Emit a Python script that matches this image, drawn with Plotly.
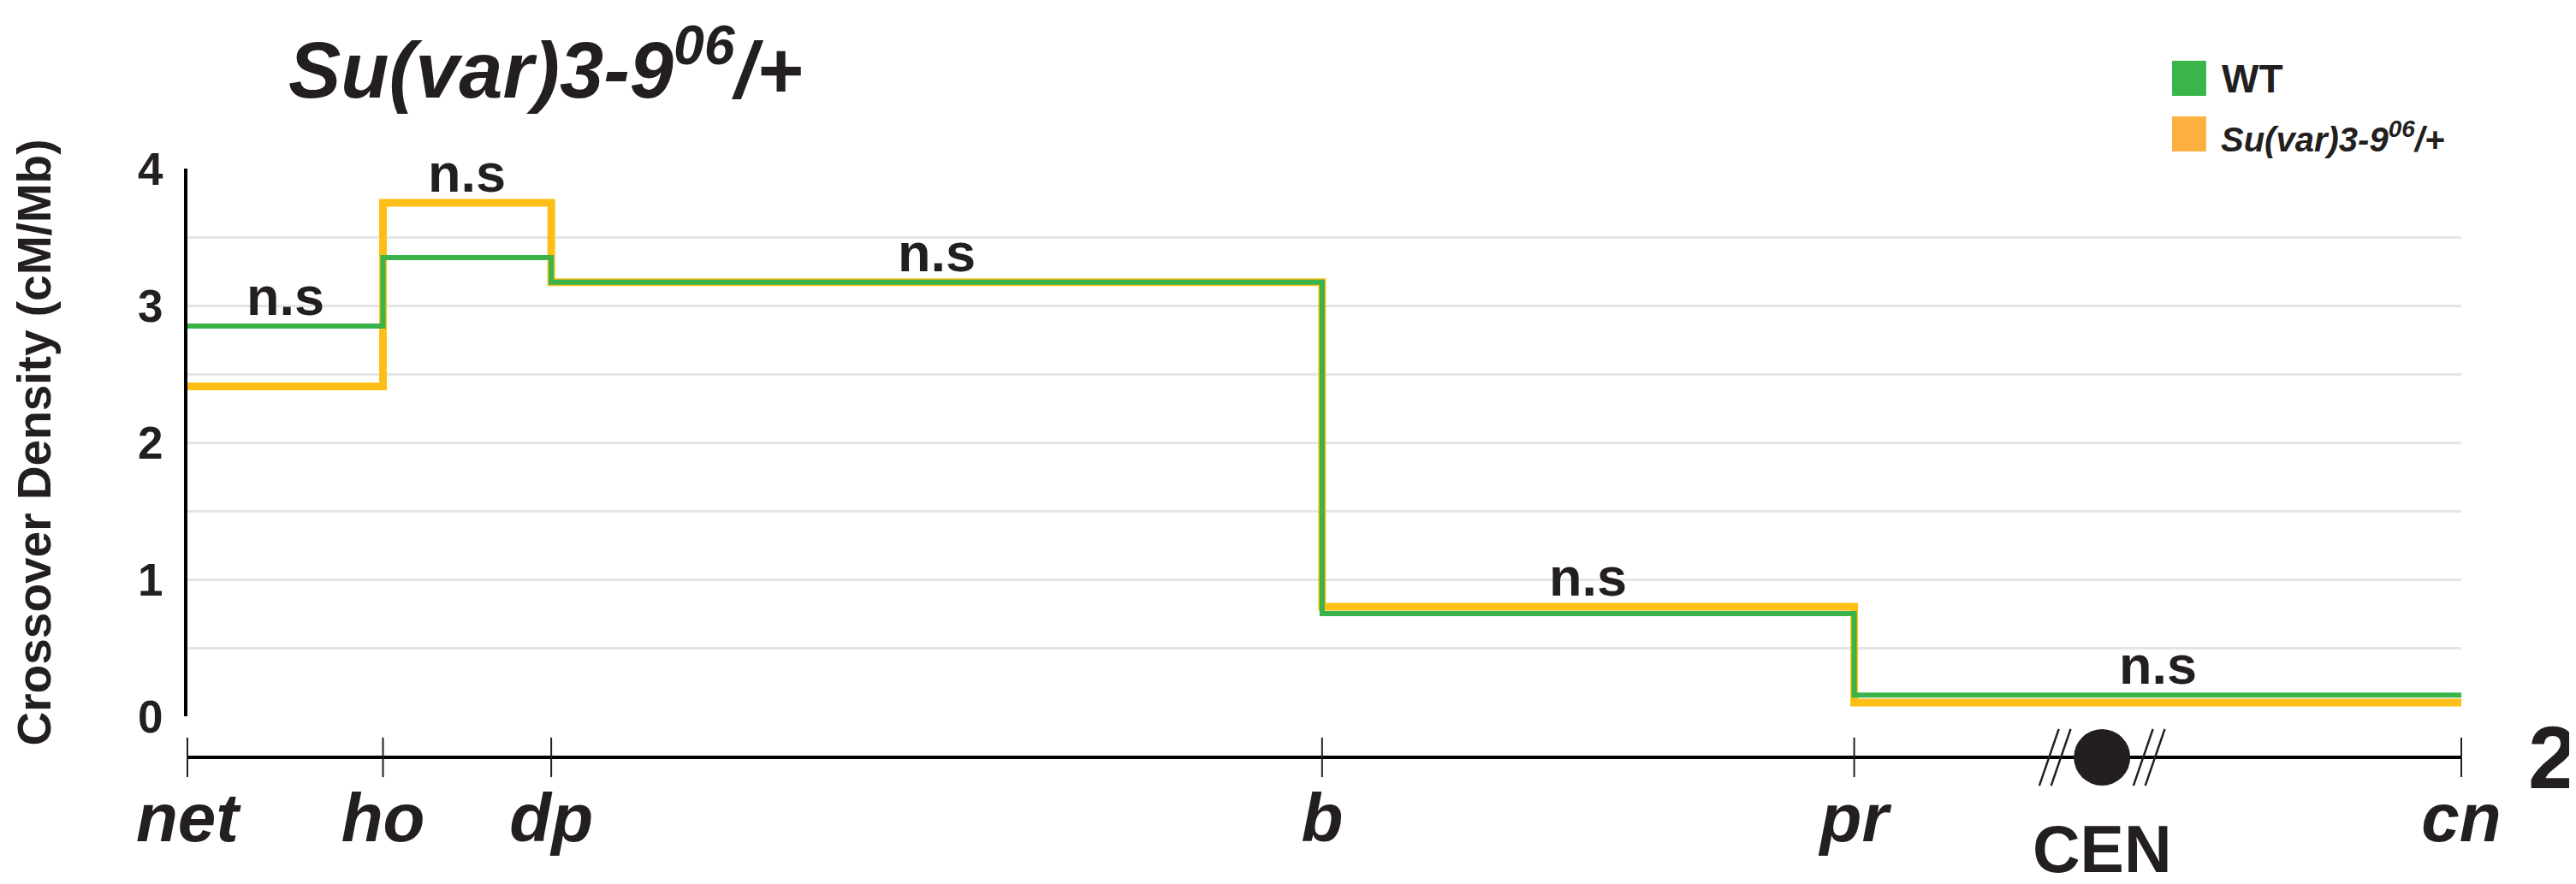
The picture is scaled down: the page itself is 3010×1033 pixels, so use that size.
import plotly.graph_objects as go

# ---------------- data ----------------
gene_names = ["net", "ho", "dp", "b", "pr", "cn"]
gene_pos = [0.0, 8.6, 16.0, 49.9, 73.3, 100.0]          # map positions (relative units)
cen_pos = 84.2                                           # centromere position
wt_density = [2.85, 3.35, 3.17, 0.75, 0.155]             # cM/Mb per interval
su_density = [2.41, 3.75, 3.17, 0.80, 0.10]              # cM/Mb per interval
interval_labels = ["n.s", "n.s", "n.s", "n.s", "n.s"]
y_ticks = [0, 1, 2, 3, 4]

# ---------------- styling ----------------
GREEN = "#3AB44A"
ORANGE_LINE = "#FDBE16"
ORANGE_LEG = "#FBB040"
INK = "#231F20"
FONT = "Liberation Sans, Arial, sans-serif"

W, H = 3010, 1033
ML, MR, MT, MB = 211, 142, 189, 156
plot_h = H - MT - MB
y_dom0 = 48 / plot_h                                    # gap between y=0 and chromosome line
y_range = [0, 4]
px_per_unit = (plot_h * (1 - y_dom0)) / (y_range[1] - y_range[0])
y_chrom = y_range[0] - 48 / px_per_unit                  # data-y of the chromosome line

fig = go.Figure()

# step lines (density per interval)
fig.add_trace(go.Scatter(
    x=gene_pos, y=su_density + [su_density[-1]], mode="lines",
    line=dict(color=ORANGE_LINE, width=9, shape="hv"),
    showlegend=False, cliponaxis=False))
fig.add_trace(go.Scatter(
    x=gene_pos, y=wt_density + [wt_density[-1]], mode="lines",
    line=dict(color=GREEN, width=6, shape="hv"),
    showlegend=False, cliponaxis=False))

# chromosome ticks (both sides of the chromosome line)
fig.add_trace(go.Scatter(
    x=gene_pos, y=[y_chrom] * len(gene_pos), mode="markers",
    marker=dict(symbol="line-ns", size=33, line=dict(width=2, color=INK)),
    xaxis="x2", yaxis="y2", showlegend=False, cliponaxis=False))

# centromere
fig.add_trace(go.Scatter(
    x=[cen_pos], y=[y_chrom], mode="markers",
    marker=dict(symbol="circle", size=66, color=INK, line=dict(width=0)),
    xaxis="x2", yaxis="y2", showlegend=False, cliponaxis=False))
slash_off = [-2.33, -1.81, 1.81, 2.33]
fig.add_trace(go.Scatter(
    x=[cen_pos + o for o in slash_off], y=[y_chrom] * 4, mode="markers",
    marker=dict(symbol="line-ns", size=50, angle=19,
                line=dict(width=2.5, color=INK)),
    xaxis="x2", yaxis="y2", showlegend=False, cliponaxis=False))

# n.s annotations above each interval
for i, lab in enumerate(interval_labels):
    mid = (gene_pos[i] + gene_pos[i + 1]) / 2
    top = max(wt_density[i], su_density[i])
    fig.add_annotation(x=mid, y=top, xref="x", yref="y", text=f"<b>{lab}</b>",
                       showarrow=False, yanchor="bottom", yshift=-2,
                       font=dict(family=FONT, size=63, color=INK))

# title
fig.add_annotation(xref="paper", yref="paper", x=0.0435, y=1.178,
                   text="<b><i>Su(var)3-9<sup>06</sup>/+</i></b>", showarrow=False,
                   xanchor="left", yanchor="middle",
                   font=dict(family=FONT, size=92, color=INK))

# legend (manual squares + labels)
fig.add_shape(type="rect", xref="paper", yref="paper", x0=0.8728, x1=0.8878,
              y0=1.1235, y1=1.1831, fillcolor="#39B54A", line=dict(width=0))
fig.add_shape(type="rect", xref="paper", yref="paper", x0=0.8728, x1=0.8878,
              y0=1.0291, y1=1.0887, fillcolor=ORANGE_LEG, line=dict(width=0))
fig.add_annotation(xref="paper", yref="paper", x=0.8940, y=1.1526, text="<b>WT</b>",
                   showarrow=False, xanchor="left", yanchor="middle",
                   font=dict(family=FONT, size=46, color=INK))
fig.add_annotation(xref="paper", yref="paper", x=0.8935, y=1.0538,
                   text="<b><i>Su(var)3-9<sup>06</sup>/+</i></b>",
                   showarrow=False, xanchor="left", yanchor="middle",
                   font=dict(family=FONT, size=40, color=INK))

# chromosome number and centromere label
fig.add_annotation(xref="paper", yref="paper", x=1.0403, y=0.0, text="<b>2</b>",
                   showarrow=False, xanchor="center", yanchor="middle",
                   font=dict(family=FONT, size=104, color=INK))
fig.add_annotation(xref="x", yref="paper", x=cen_pos, y=-0.156, text="<b>CEN</b>",
                   showarrow=False, xanchor="center", yanchor="middle",
                   font=dict(family=FONT, size=77, color=INK))

fig.update_layout(
    width=W, height=H,
    margin=dict(l=ML, r=MR, t=MT, b=MB, pad=0),
    paper_bgcolor="white", plot_bgcolor="rgba(0,0,0,0)",
    showlegend=False,
    xaxis=dict(
        range=[gene_pos[0], gene_pos[-1]], domain=[0, 1],
        anchor="free", position=0,
        showgrid=False, zeroline=False,
        showline=True, linecolor="black", linewidth=4,
        ticks="", tickvals=gene_pos, ticktext=gene_names,
        tickfont=dict(family=FONT, size=80, color=INK, weight="bold", style="italic"),
        automargin=False,
    ),
    yaxis=dict(
        range=y_range, domain=[y_dom0, 1],
        tickvals=y_ticks, ticks="",
        showgrid=True, gridcolor="#E3E5E6", gridwidth=2.5,
        minor=dict(dtick=0.5, showgrid=True, gridcolor="#E3E5E6", gridwidth=2.5),
        zeroline=False,
        showline=True, linecolor="black", linewidth=4,
        tickfont=dict(family=FONT, size=53, color=INK, weight="bold"),
        ticklabelstandoff=14, automargin=False,
        title=dict(text="<b>Crossover Density (cM/Mb)</b>", standoff=85,
                   font=dict(family=FONT, size=55, color=INK)),
    ),
    xaxis2=dict(range=[gene_pos[0], gene_pos[-1]], domain=[0, 1], anchor="y2",
                visible=False),
    yaxis2=dict(range=[y_chrom, y_range[1]], domain=[0, 1], anchor="x2",
                visible=False),
)

fig.write_html("out.html")
